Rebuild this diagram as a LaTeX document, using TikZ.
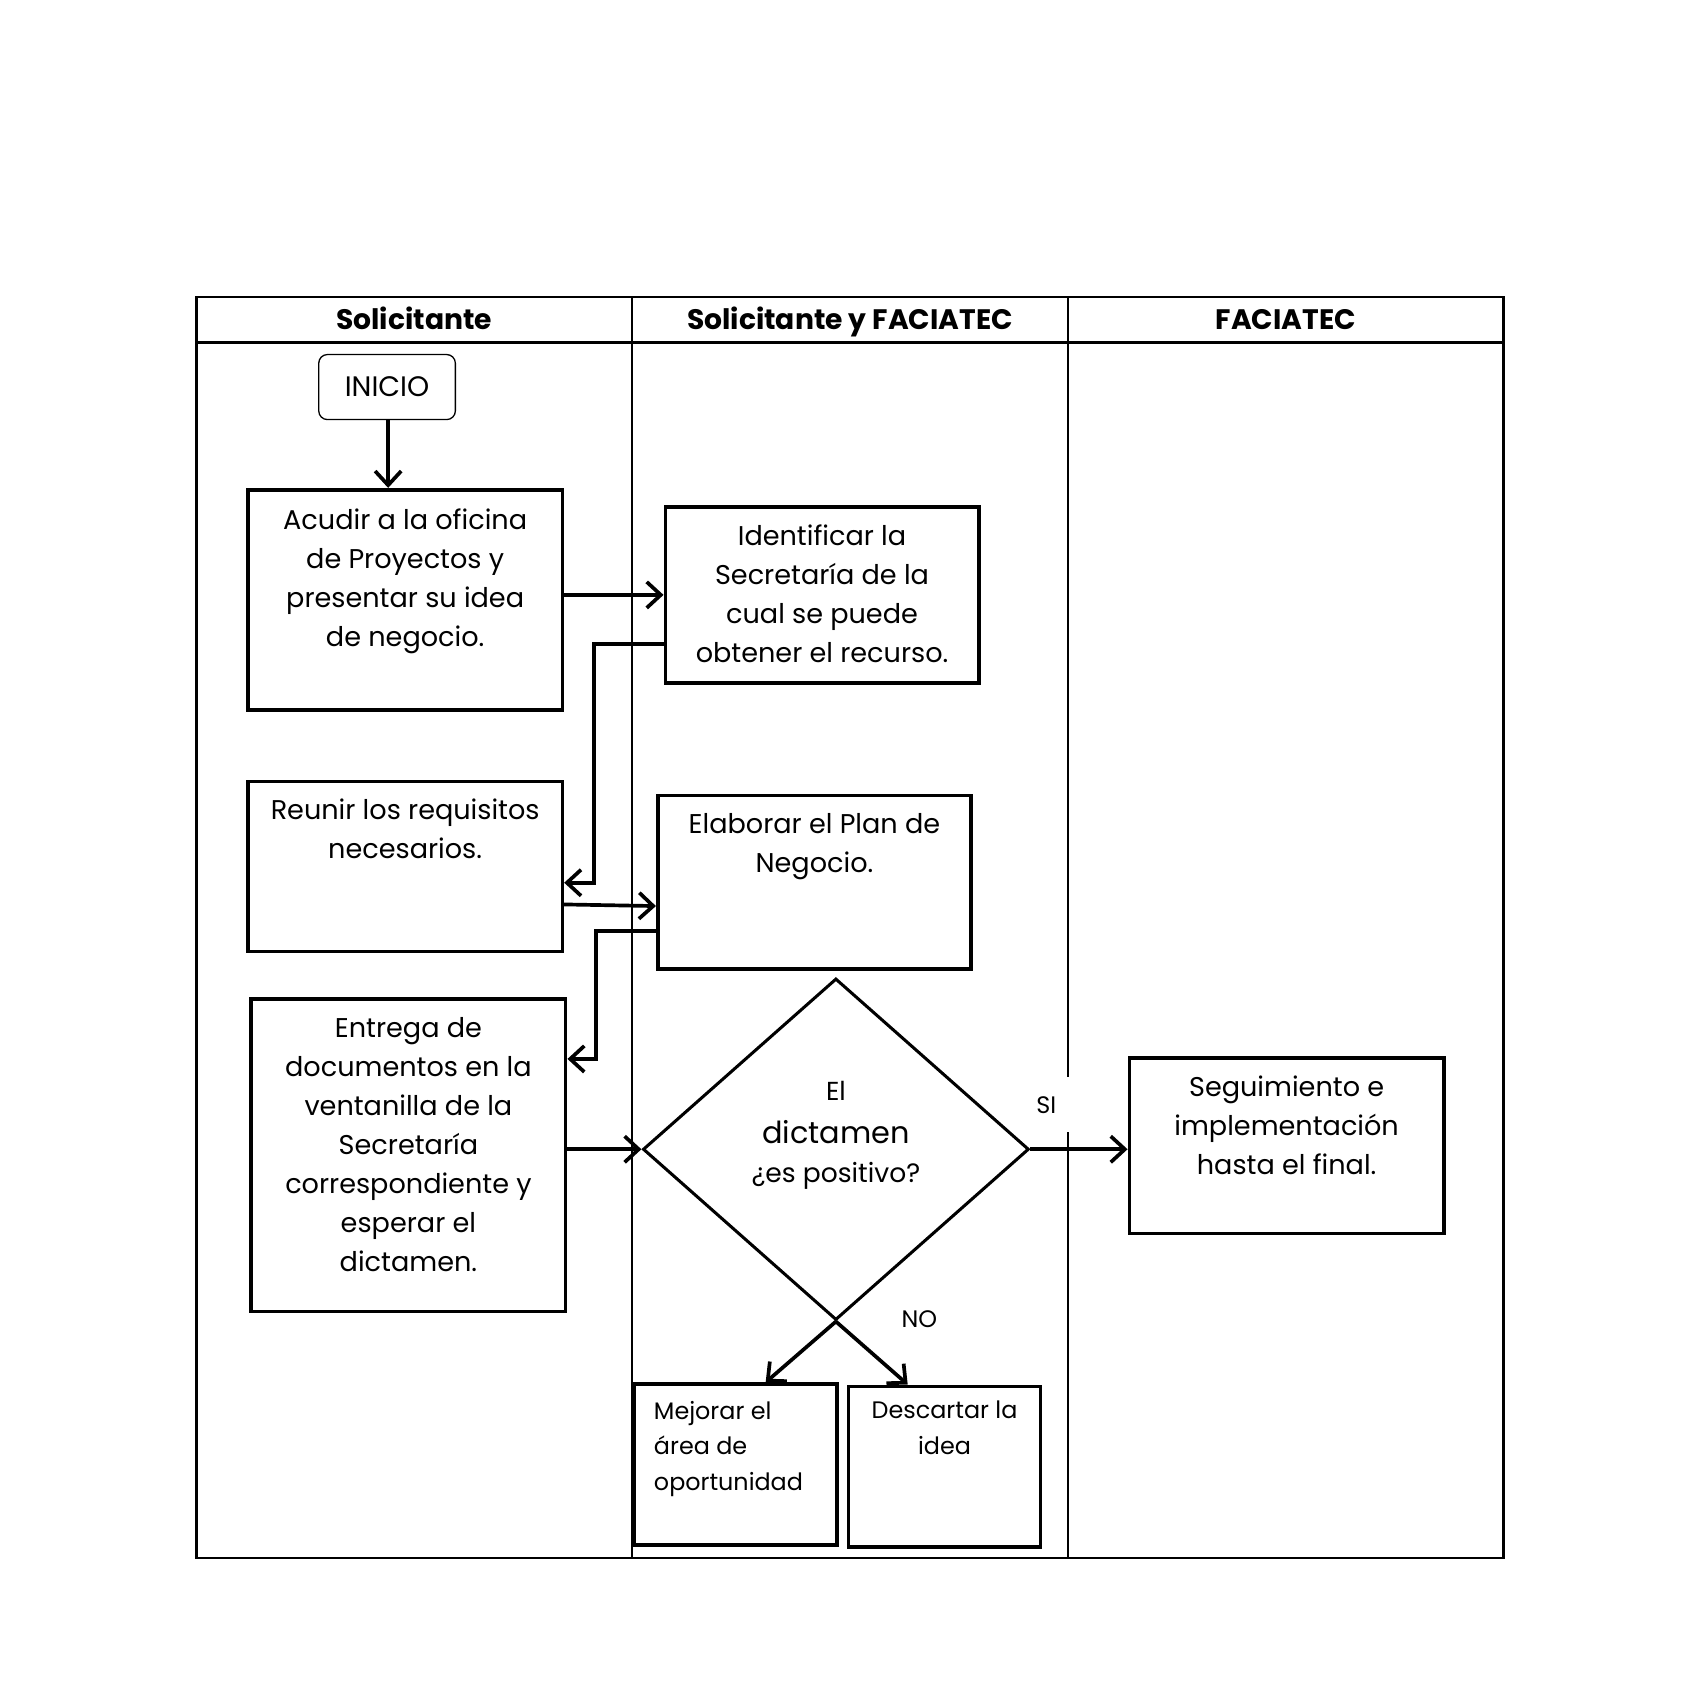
\documentclass[tikz,border=0pt]{standalone}
\usepackage{fontspec}
\setmainfont{Poppins}
\usetikzlibrary{arrows.meta,shapes.geometric,positioning}

\tikzset{
  lane/.style={line width=2.4pt},
  head/.style={font=\bfseries\fontsize{26}{30}\selectfont,inner sep=0pt,anchor=base},
  proc/.style={draw,line width=3.4pt,anchor=north west,inner sep=0pt},
  txt/.style={align=center,inner sep=0pt,anchor=north,font=\fontsize{25}{36}\selectfont},
  small/.style={inner sep=0pt,anchor=north,font=\fontsize{22}{33}\selectfont},
  flow/.style={line width=3.4pt,-{Straight Barb[length=13pt,width=24pt,line width=3.4pt]}},
}

\begin{document}
\begin{tikzpicture}[x=1pt,y=-1pt]
\useasboundingbox (0,0) rectangle (1568,1559);
% Swimlanes
\draw[lane] (181,274) rectangle (1387,1437);
\draw[lane] (181,316) -- (1387,316);
\draw[lane] (583,274) -- (583,1437);
\draw[lane] (985,274) -- (985,1437);
\node[head] (lane1) at (382,304) {Solicitante};
\node[head] (lane2) at (784,304) {Solicitante y FACIATEC};
\node[head] (lane3) at (1186,304) {FACIATEC};
% Start
\node[draw,line width=1.2pt,rounded corners=8pt,minimum width=126pt,minimum height=60pt,
  font=\fontsize{26}{30}\selectfont] (inicio) at (357,357) {INICIO};
% Boxes
\node[proc,minimum width=290pt,minimum height=203pt] (acudir) at (227,450) {};
\node[proc,minimum width=289pt,minimum height=162pt] (ident) at (612,466) {};
\node[proc,minimum width=290pt,minimum height=157pt] (reunir) at (227,719) {};
\node[proc,minimum width=289pt,minimum height=160pt] (elab) at (605,732) {};
\node[proc,minimum width=290pt,minimum height=288pt] (entrega) at (230,920) {};
\node[proc,minimum width=290pt,minimum height=162pt] (segui) at (1040,974) {};
\node[proc,minimum width=187pt,minimum height=148pt] (mejorar) at (583,1275) {};
\node[proc,minimum width=177pt,minimum height=148pt] (descartar) at (781,1277) {};
\node[draw,diamond,line width=2.8pt,inner sep=0pt,minimum width=356pt,minimum height=315pt]
  (dec) at (771,1060) {};
% Texts
\node[txt] (acudirtxt) at ([yshift=-19pt]acudir.north) {Acudir a la oficina\\de Proyectos y\\presentar su idea\\de negocio.};
\node[txt] (identtxt) at ([yshift=-18pt]ident.north) {Identificar la\\Secretaría de la\\cual se puede\\obtener el recurso.};
\node[txt] (reunirtxt) at ([yshift=-18pt]reunir.north) {Reunir los requisitos\\necesarios.};
\node[txt] (elabtxt) at ([yshift=-18pt]elab.north) {Elaborar el Plan de\\Negocio.};
\node[txt] (entregatxt) at ([yshift=-18pt]entrega.north) {Entrega de\\documentos en la\\ventanilla de la\\Secretaría\\correspondiente y\\esperar el\\dictamen.};
\node[txt] (seguitxt) at ([yshift=-18pt]segui.north) {Seguimiento e\\implementación\\hasta el final.};
\node[small,align=left,anchor=north west] (mejorartxt) at ([xshift=20pt,yshift=-17pt]mejorar.north west) {Mejorar el\\área de\\oportunidad};
\node[small,align=center] (descartartxt) at ([yshift=-15pt]descartar.north) {Descartar la\\idea};
\node[align=center,inner sep=0pt,font=\fontsize{24}{36}\selectfont] (dectxt) at (771,1047)
  {El\\[4pt]{\fontsize{28}{36}\selectfont dictamen}\\[0pt]{\fontsize{24.5}{36}\selectfont ¿es positivo?}};
\node[fill=white,inner sep=0pt,minimum width=44pt,minimum height=51pt,font=\fontsize{22}{30}\selectfont] (si) at (965,1019) {SI};
\node[inner sep=0pt,font=\fontsize{22}{30}\selectfont] (no) at (848,1217) {NO};
% Connectors
\draw[flow] (inicio.south -| 358,0) -- (acudir.north -| 358,0);
\draw[flow] (acudir.east |- ident.west) -- (ident.west);
\draw[flow] ([yshift=-45pt]ident.west) -- ++(-64,0) |- ([yshift=-15pt]reunir.east);
\draw[flow] ([yshift=-35pt]reunir.east) -- ([yshift=-22pt]elab.west);
\draw[flow] ([yshift=-45pt]elab.west) -- ++(-55,0) |- ([yshift=89pt]entrega.east);
\draw[flow] (entrega.east |- dec.west) -- (dec.west);
\draw[flow] (dec.east) -- (dec.east -| segui.west);
\draw[flow] (dec.south) -- ([xshift=28pt]mejorar.north);
\draw[flow] (dec.south) -- ([xshift=-34pt]descartar.north);
\end{tikzpicture}
\end{document}
